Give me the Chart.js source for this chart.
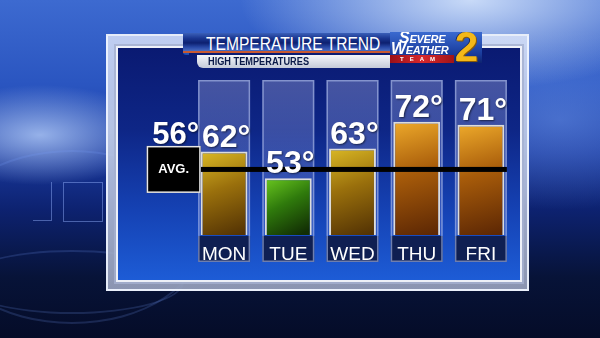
<!DOCTYPE html>
<html>
<head>
<meta charset="utf-8">
<script src="https://cdn.jsdelivr.net/npm/chart.js@4/dist/chart.umd.min.js"></script>
<style>
  html,body{margin:0;padding:0;width:600px;height:338px;overflow:hidden;}
  body{position:relative;font-family:"Liberation Sans",Arial,sans-serif;
    background:
      radial-gradient(ellipse 230px 90px at 470px 0px, rgba(225,238,255,0.85), rgba(225,238,255,0) 100%),
      radial-gradient(ellipse 120px 50px at 40px 135px, rgba(190,215,255,0.75), rgba(190,215,255,0) 100%),
      radial-gradient(ellipse 160px 90px at 560px 120px, rgba(120,160,240,0.45), rgba(120,160,240,0) 100%),
      linear-gradient(180deg,#3d6ad0 0%,#2a55c0 25%,#1a3aa0 45%,#0d2270 62%,#071338 82%,#050c28 100%);}
  .arc{position:absolute;border-radius:50%;border:2px solid rgba(120,160,255,0.18);}
  .sq{position:absolute;border:1px solid rgba(150,180,255,0.45);}
  #frame{position:absolute;left:106px;top:34px;width:419px;height:253px;
    border:2px solid rgba(240,245,255,0.9);
    background:linear-gradient(180deg,rgba(215,225,248,0.85),rgba(185,196,222,0.88) 60%,rgba(150,160,188,0.92));}
  #panel{position:absolute;left:118px;top:48px;width:402px;height:232px;
    box-shadow:0 0 0 2px rgba(250,252,255,0.85), 0 0 0 4px rgba(165,176,208,0.8);
    background:linear-gradient(180deg,#0a1a72 0%,#0e2686 35%,#1542b4 70%,#1d5cd6 100%);}
  canvas{position:absolute;left:0;top:0;}
  .sx{display:inline-block;transform-origin:0 50%;white-space:nowrap;}
  #banner{position:absolute;left:183px;top:33px;width:207px;height:20px;overflow:hidden;
    border-bottom:2px solid #c85a32;
    background:linear-gradient(180deg,#3a5fb8 0%,#1a3690 30%,#0d2070 55%,#2a4aa8 80%,#4a6cc0 100%);
    color:#fff;font-family:"Liberation Sans",Arial,sans-serif;
    font-size:19px;line-height:21px;padding-left:23px;box-sizing:border-box;white-space:nowrap;}
  #banner .sx{transform:scaleX(0.82);}
  #cap{position:absolute;left:183px;top:33px;width:6px;height:22px;border-radius:3px 0 0 3px;
    background:linear-gradient(180deg,#a8d0ff,#3a7ae0 60%,#1a4ab0);}
  #sub{position:absolute;left:197px;top:55px;width:193px;height:13px;border-bottom-left-radius:6px;overflow:hidden;
    background:linear-gradient(180deg,#f4f6fb,#c4cad8);
    color:#0b1a48;font-family:"Liberation Sans",Arial,sans-serif;
    font-weight:bold;font-size:11.5px;line-height:13px;padding-left:11px;box-sizing:border-box;white-space:nowrap;}
  #sub .sx{transform:scaleX(0.8);}
  #logo{position:absolute;left:390px;top:32px;width:92px;height:31px;overflow:hidden;
    background:linear-gradient(180deg,#3a6ad0,#1a3c9c 70%,#0e2470);}
  #logo .w{position:absolute;color:#fff;font-style:italic;font-weight:bold;white-space:nowrap;
    font-family:"Liberation Sans",Arial,sans-serif;font-size:11px;line-height:11px;letter-spacing:-0.3px;}
  #logo .w b{font-size:16px;}
  #team{position:absolute;left:0;top:23px;width:64px;height:8px;
    background:linear-gradient(90deg,#9a1018,#d8282c 50%,#a01418);
    color:#fff;font-size:6px;line-height:8px;letter-spacing:6px;text-indent:10px;font-weight:bold;}
  #two{position:absolute;left:61px;top:-6px;width:31px;height:40px;color:#f4b818;
    font-family:"Liberation Sans",Arial,sans-serif;font-weight:bold;font-size:42px;line-height:42px;text-align:center;
    text-shadow:1px 1px 0 #8a5a08,-1px 0 0 #1a2a60;}
</style>
</head>
<body>
<div class="arc" style="left:-60px;top:150px;width:260px;height:170px;"></div>
<div class="arc" style="left:-40px;top:250px;width:220px;height:60px;"></div>
<div class="sq" style="left:33px;top:182px;width:18px;height:38px;border-left:none;border-top:none;"></div>
<div class="sq" style="left:63px;top:182px;width:38px;height:38px;"></div>
<div id="frame"></div>
<div id="panel"></div>
<canvas id="c" width="600" height="338"></canvas>
<div id="cap"></div>
<div id="banner"><span class="sx">TEMPERATURE TREND</span></div>
<div id="sub"><span class="sx">HIGH TEMPERATURES</span></div>
<div id="logo">
  <div class="w" style="left:9px;top:0px;"><b>S</b>EVERE</div>
  <div class="w" style="left:1px;top:11px;"><b>W</b>EATHER</div>
  <div id="team">TEAM</div>
  <div id="two">2</div>
</div>
<script>
// ---- data ----
const days = ['MON', 'TUE', 'WED', 'THU', 'FRI'];
const highs = [62, 53, 63, 72, 71];
const avgHigh = 56;
const avgLabel = 'AVG.';
const yMin = 34;
const yMax = 86;

function barColors(v) {
  if (v < 60) return ['#66c21e', '#2f7a0c', '#122e04'];
  if (v < 70) return ['#d8b624', '#9a700c', '#553404'];
  return ['#eca82a', '#a85c0a', '#5e2804'];
}

const decor = {
  id: 'decor',
  beforeDraw(chart) {
    const {ctx, chartArea: ca, scales: {x}} = chart;
    const slotW = 52;
    const labelBottom = ca.bottom + 27;
    ctx.save();
    days.forEach((d, i) => {
      const cx = x.getPixelForValue(i);
      const l = cx - slotW / 2;
      const g = ctx.createLinearGradient(0, ca.top, 0, ca.bottom);
      g.addColorStop(0, 'rgba(150,160,215,0.42)');
      g.addColorStop(1, 'rgba(100,120,210,0.28)');
      ctx.fillStyle = g;
      ctx.fillRect(l, ca.top, slotW, ca.bottom - ca.top);
      ctx.fillStyle = '#0f1f52';
      ctx.fillRect(l, ca.bottom + 1, slotW, labelBottom - ca.bottom - 1);
      ctx.strokeStyle = 'rgba(175,190,235,0.6)';
      ctx.lineWidth = 1.5;
      ctx.strokeRect(l + 0.75, ca.top + 0.75, slotW - 1.5, labelBottom - ca.top - 1.5);
    });
    ctx.restore();
  },
  afterDatasetsDraw(chart) {
    const {ctx, chartArea: ca, scales: {x, y}} = chart;
    const meta = chart.getDatasetMeta(0);
    const yAvg = y.getPixelForValue(avgHigh);
    const first = meta.data[0];
    const last = meta.data[meta.data.length - 1];
    const boxR = first.x - first.width / 2;
    const boxW = 54, boxH = 47;
    ctx.save();
    // average line
    ctx.fillStyle = '#000';
    ctx.fillRect(boxR, yAvg - 2.5, (last.x + 26) - boxR, 5);
    // AVG box
    ctx.fillRect(boxR - boxW, yAvg - boxH / 2, boxW, boxH);
    ctx.strokeStyle = '#e8e8e8';
    ctx.lineWidth = 1.5;
    ctx.strokeRect(boxR - boxW + 0.75, yAvg - boxH / 2 + 0.75, boxW - 1.5, boxH - 1.5);
    ctx.fillStyle = '#fff';
    ctx.textAlign = 'center';
    ctx.textBaseline = 'middle';
    ctx.font = 'bold 13px "Liberation Sans", Arial, sans-serif';
    ctx.fillText(avgLabel, boxR - boxW / 2, yAvg);
    ctx.shadowColor = 'rgba(0,0,0,0.55)';
    ctx.shadowBlur = 2;
    ctx.shadowOffsetX = 1;
    ctx.shadowOffsetY = 1;
    ctx.textBaseline = 'alphabetic';
    ctx.font = 'bold 31px "Liberation Sans", Arial, sans-serif';
    ctx.fillText(avgHigh + '°', boxR - boxW / 2 + 2, yAvg - boxH / 2 - 2);
    // value labels
    ctx.font = 'bold 32px "Liberation Sans", Arial, sans-serif';
    meta.data.forEach((el, i) => {
      ctx.fillText(highs[i] + '°', el.x + 2, el.y - 5);
    });
    ctx.restore();
  }
};

new Chart(document.getElementById('c'), {
  type: 'bar',
  data: {
    labels: days,
    datasets: [{
      data: highs,
      barPercentage: 0.73,
      categoryPercentage: 1,
      borderWidth: 2,
      borderColor: '#dcdcdc',
      borderSkipped: false,
      backgroundColor(c) {
        const chart = c.chart;
        const ca = chart.chartArea;
        const v = highs[c.dataIndex];
        const cols = barColors(v);
        if (!ca || !chart.scales.y) return cols[1];
        const top = chart.scales.y.getPixelForValue(v);
        const cx = chart.scales.x.getPixelForValue(c.dataIndex);
        const g = chart.ctx.createLinearGradient(cx - 18, top, cx + 12, ca.bottom);
        g.addColorStop(0, cols[0]);
        g.addColorStop(0.45, cols[1]);
        g.addColorStop(1, cols[2]);
        return g;
      }
    }]
  },
  options: {
    responsive: false,
    animation: false,
    layout: {padding: {left: 192, right: 87, top: 80, bottom: 70}},
    plugins: {legend: {display: false}, tooltip: {enabled: false}},
    scales: {
      x: {
        grid: {display: false, drawTicks: false},
        border: {display: false},
        afterFit(scale) { scale.height = 33; },
        ticks: {
          color: '#ffffff',
          padding: 8,
          font: {family: '"Liberation Sans", Arial, sans-serif', size: 19}
        }
      },
      y: {display: false, min: yMin, max: yMax}
    }
  },
  plugins: [decor]
});
</script>
</body>
</html>
